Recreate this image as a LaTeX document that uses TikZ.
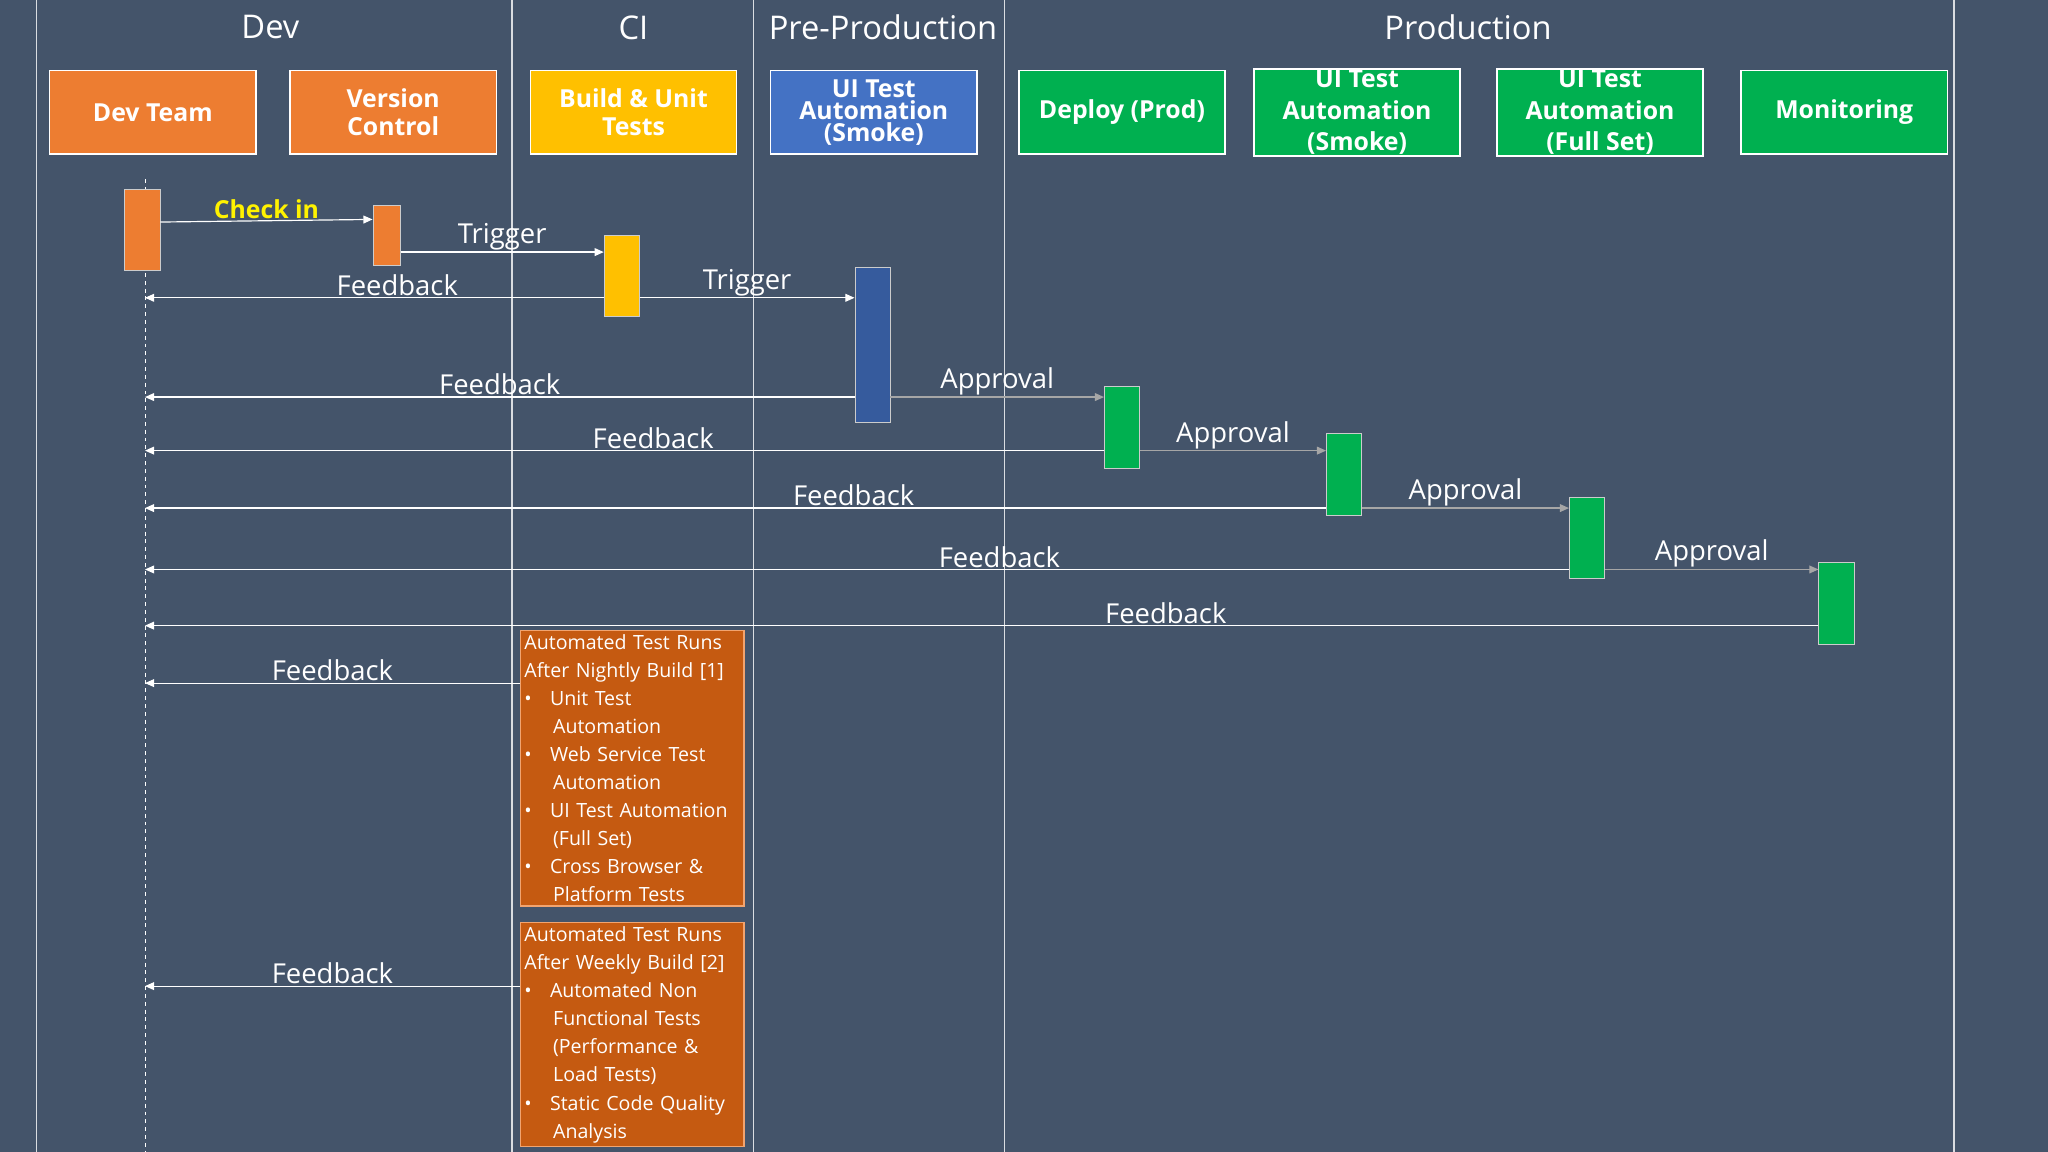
\documentclass[tikz,border=0pt]{standalone}
\usepackage{fontspec}
\setmainfont{Open Sans}
\usetikzlibrary{arrows.meta}
\definecolor{bg}{HTML}{44546A}
\definecolor{org}{HTML}{ED7D31}
\definecolor{yel}{HTML}{FFC000}
\definecolor{blu}{HTML}{4472C4}
\definecolor{grn}{HTML}{00B050}
\definecolor{dorg}{HTML}{C55A11}
\definecolor{gry}{HTML}{A6A6A6}
\begin{document}
\begin{tikzpicture}[x=1pt,y=-1pt,
 hdr/.style={font=\fontsize{25}{28}\selectfont,text=white},
 box/.style={draw=white,line width=1.2pt,minimum width=158pt,minimum height=64pt,text=white,font=\bfseries\fontsize{19}{21}\selectfont,align=center,inner sep=1pt},
 bar/.style={draw=white!60!gray,line width=0.5pt,minimum width=27pt,inner sep=0pt},
 msg/.style={white,line width=0.9pt,-{Triangle[length=7pt,width=6pt]}},
 app/.style={gry,line width=0.9pt,-{Triangle[length=7pt,width=6pt]}},
 lbl/.style={text=white,font=\fontsize{21}{24}\selectfont,above,inner sep=1pt},
 note/.style={draw=org!70!white,line width=1pt,fill=dorg,text=white,font=\fontsize{15}{21.5}\selectfont,align=left,anchor=north west,text width=165pt,inner sep=3pt,minimum width=171pt}]
\fill[bg] (0,0) rectangle (1568,882);
\useasboundingbox (0,0) rectangle (1568,882);
\foreach \x in {28,392,577,769,1496} \draw[white!80!bg,line width=0.8pt] (\x,0) -- (\x,882);
\node[hdr] (h1) at (207,21) {Dev};
\node[hdr] (h2) at (485,21) {CI};
\node[hdr] (h3) at (676,21) {Pre-Production};
\node[hdr] (h4) at (1124,21) {Production};
\node[box,fill=org] (b1) at (117,86) {Dev Team};
\node[box,fill=org] (b2) at (301,86) {Version\\Control};
\node[box,fill=yel] (b3) at (485,86) {Build \& Unit\\Tests};
\node[box,fill=blu,font=\bfseries\fontsize{19}{17}\selectfont] (b4) at (669,86) {UI Test\\Automation\\(Smoke)};
\node[box,fill=grn] (b5) at (859,86) {Deploy (Prod)};
\node[box,fill=grn,font=\bfseries\fontsize{19}{24}\selectfont] (b6) at (1039,86) {UI Test\\Automation\\(Smoke)};
\node[box,fill=grn,font=\bfseries\fontsize{19}{24}\selectfont] (b7) at (1225,86) {UI Test\\Automation\\(Full Set)};
\node[box,fill=grn] (b8) at (1412,86) {Monitoring};
\coordinate (l0) at (111,137); \coordinate (l1) at (111,882);
\draw[white,dashed,line width=0.5pt] (l0) -- (l1);
\node[bar,fill=org,minimum height=62pt] (a1) at (109,176) {};
\node[bar,fill=org,minimum height=46pt,minimum width=21pt] (a2) at (296,180) {};
\node[bar,fill=yel,minimum height=62pt] (a3) at (476,211) {};
\node[bar,fill=blu!80!black,minimum height=119pt] (a4) at (668,264) {};
\node[bar,fill=grn,minimum height=63pt] (a5) at (859,327) {};
\node[bar,fill=grn,minimum height=63pt] (a6) at (1029,363) {};
\node[bar,fill=grn,minimum height=62pt] (a7) at (1215,412) {};
\node[bar,fill=grn,minimum height=63pt] (a8) at (1406,462) {};
\node[note] (n1) at (398,482) {Automated Test Runs\\After Nightly Build [1]\\
\textbullet\hspace{14pt}Unit Test\\\hspace{22pt}Automation\\
\textbullet\hspace{14pt}Web Service Test\\\hspace{22pt}Automation\\
\textbullet\hspace{14pt}UI Test Automation\\\hspace{22pt}(Full Set)\\
\textbullet\hspace{14pt}Cross Browser \&\\\hspace{22pt}Platform Tests};
\node[note] (n2) at (398,706) {Automated Test Runs\\After Weekly Build [2]\\
\textbullet\hspace{14pt}Automated Non\\\hspace{22pt}Functional Tests\\\hspace{22pt}(Performance \&\\\hspace{22pt}Load Tests)\\
\textbullet\hspace{14pt}Static Code Quality\\\hspace{22pt}Analysis\\[6pt]};
\draw[msg] (a1.east|-0,170) -- node[above,inner sep=1pt,text=yellow,font=\bfseries\fontsize{19}{22}\selectfont]{Check in} (a2.west|-0,168);
\draw[msg] (a2.east|-0,193) -- node[lbl]{Trigger} (a3.west|-0,193);
\draw[msg] (a3.west|-0,228) -- node[lbl,pos=0.45]{Feedback} (111,228);
\draw[msg] (a3.east|-0,228) -- node[lbl]{Trigger} (a4.west|-0,228);
\draw[msg] (a4.west|-0,304) -- node[lbl]{Feedback} (111,304);
\draw[app] (a4.east|-0,304) -- node[lbl]{Approval} (a5.west|-0,304);
\draw[msg] (a5.west|-0,345) -- node[lbl,pos=0.47]{Feedback} (111,345);
\draw[app] (a5.east|-0,345) -- node[lbl]{Approval} (a6.west|-0,345);
\draw[msg] (a6.west|-0,389) -- node[lbl,pos=0.4]{Feedback} (111,389);
\draw[app] (a6.east|-0,389) -- node[lbl]{Approval} (a7.west|-0,389);
\draw[msg] (a7.west|-0,436) -- node[lbl,pos=0.4]{Feedback} (111,436);
\draw[app] (a7.east|-0,436) -- node[lbl]{Approval} (a8.west|-0,436);
\draw[msg] (a8.west|-0,479) -- node[lbl,pos=0.39]{Feedback} (111,479);
\draw[msg] (n1.west|-0,523) -- node[lbl]{Feedback} (111,523);
\draw[msg] (n2.west|-0,755) -- node[lbl]{Feedback} (111,755);
\end{tikzpicture}
\end{document}
